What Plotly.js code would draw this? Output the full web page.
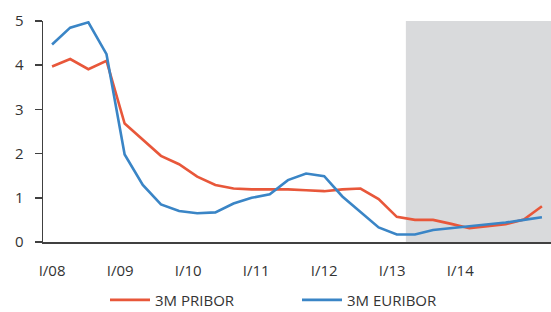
<!DOCTYPE html>
<html>
<head>
<meta charset="utf-8">
<script src="https://cdn.plot.ly/plotly-3.0.1.min.js"></script>
<style>html,body{margin:0;padding:0;background:#fff;}#chart{width:551px;height:312px;}</style>
</head>
<body>
<div id="chart"></div>
<script>
// Quarterly periods I/08 .. IV/14
const quarters = [
  'I/08','II/08','III/08','IV/08',
  'I/09','II/09','III/09','IV/09',
  'I/10','II/10','III/10','IV/10',
  'I/11','II/11','III/11','IV/11',
  'I/12','II/12','III/12','IV/12',
  'I/13','II/13','III/13','IV/13',
  'I/14','II/14','III/14','IV/14'
];
const pribor = [3.97,4.14,3.91,4.10,2.68,2.31,1.95,1.76,1.48,1.29,1.21,1.19,1.19,1.19,1.17,1.15,1.19,1.21,0.97,0.57,0.50,0.50,0.41,0.31,0.36,0.40,0.51,0.81];
const euribor = [4.47,4.85,4.97,4.25,1.98,1.29,0.85,0.70,0.65,0.67,0.87,1.00,1.08,1.40,1.55,1.49,1.03,0.69,0.33,0.17,0.17,0.27,0.31,0.35,0.40,0.44,0.50,0.56];
const tickLabels = ['I/08','I/09','I/10','I/11','I/12','I/13','I/14'];
const shadeFrom = 'I/13';

const xIdx = quarters.map((q,i)=>i);
const tickStep = 3.75;
const tickVals = tickLabels.map((t,i)=>i*tickStep);
const shadeStart = quarters.indexOf(shadeFrom) - 0.5;
const xMax = quarters.length - 0.5;

const font = {family:'"Open Sans", "Noto Sans", sans-serif', size:15, color:'#333333'};

const traces = [
  {x:xIdx, y:pribor, name:'3M PRIBOR', type:'scatter', mode:'lines',
   line:{color:'#E8573A', width:2.6}, hoverinfo:'skip'},
  {x:xIdx, y:euribor, name:'3M EURIBOR', type:'scatter', mode:'lines',
   line:{color:'#3A85C6', width:2.6}, hoverinfo:'skip'}
];

const layout = {
  width:551, height:312,
  margin:{l:43, r:0, t:21, b:70, autoexpand:false},
  paper_bgcolor:'#ffffff', plot_bgcolor:'#ffffff',
  font:font,
  showlegend:true,
  legend:{orientation:'h', x:0.5, xanchor:'center', yref:'container', y:0.038, yanchor:'middle',
          font:font, itemwidth:40, traceorder:'normal', entrywidth:137, entrywidthmode:'pixels'},
  xaxis:{range:[-0.5, xMax], tickvals:tickVals, ticktext:tickLabels, automargin:false,
         showgrid:false, zeroline:false, showline:true, linecolor:'#404040', linewidth:2,
         ticks:'', tickfont:font, fixedrange:true, ticklabelstandoff:14},
  yaxis:{range:[0,5], dtick:1, showgrid:false, zeroline:false, showline:true, automargin:false,
         linecolor:'#404040', linewidth:1.5, ticks:'outside', ticklen:7, tickwidth:1.5,
         tickcolor:'#404040', tickfont:font, fixedrange:true, ticklabelstandoff:8},
  shapes:[{type:'rect', xref:'x', yref:'y', x0:shadeStart, x1:xMax, y0:0, y1:5,
           fillcolor:'#D9DADC', line:{width:0}, layer:'below'}]
};

Plotly.newPlot('chart', traces, layout, {staticPlot:true, displayModeBar:false});
</script>
</body>
</html>
